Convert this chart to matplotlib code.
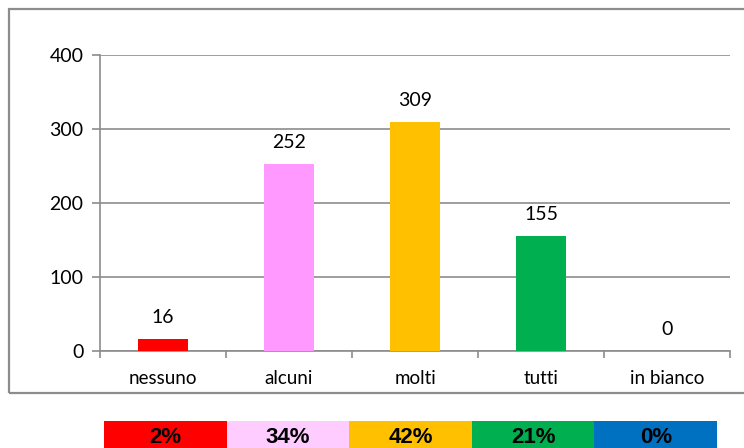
import matplotlib.pyplot as plt
from matplotlib.patches import Rectangle

plt.rcParams.update({'font.family': ['Lato', 'DejaVu Sans'], 'font.size': 14})

# data
categories = ['nessuno', 'alcuni', 'molti', 'tutti', 'in bianco']
counts = [16, 252, 309, 155, 0]
percent_labels = ['2%', '34%', '42%', '21%', '0%']

bar_colors = ['#FF0000', '#FF99FF', '#FFC000', '#00B050', '#0070C0']
cell_colors = ['#FF0000', '#FFCCFF', '#FFC000', '#00B050', '#0070C0']
line_gray = '#8c8c8c'

W, H = 744, 448
fig = plt.figure(figsize=(W / 100, H / 100), dpi=100)

# outer frame of the chart area
fig.patches.append(Rectangle((8.5 / W, 1 - 392.5 / H), (W + 5) / W, (392.5 - 8.5) / H,
                             transform=fig.transFigure, fill=False,
                             edgecolor=line_gray, linewidth=1.6, zorder=0))

# main bar chart
ax = fig.add_axes([100 / W, 1 - 350.7 / H, 630 / W, (350.7 - 55) / H])
x = list(range(len(categories)))
ax.bar(x, counts, width=0.4, color=bar_colors, zorder=3)
ax.set_xlim(-0.5, len(categories) - 0.5)
ax.set_ylim(0, 400)
ax.set_yticks([0, 100, 200, 300, 400])
ax.set_xticks(x)
ax.set_xticklabels(categories)
ax.set_xticks([i - 0.5 for i in range(len(categories) + 1)], minor=True)
ax.tick_params(axis='x', which='major', length=0, pad=14, labelsize=13.5)
ax.tick_params(axis='x', which='minor', length=5, color=line_gray, width=1.2)
ax.tick_params(axis='y', length=6, color=line_gray, width=1.2, pad=6, labelsize=14)
ax.grid(axis='y', color=line_gray, linewidth=1.2, zorder=0)
for side in ['top', 'right']:
    ax.spines[side].set_visible(False)
for side in ['left', 'bottom']:
    ax.spines[side].set_color(line_gray)
    ax.spines[side].set_linewidth(1.2)

for i, v in enumerate(counts):
    ax.annotate(str(v), (x[i], v), xytext=(0, 11.5), textcoords='offset points',
                ha='center', va='baseline', fontsize=14)

# percentage strip under the chart
cax = fig.add_axes([104 / W, 0, 613 / W, 27 / H])
cax.bar(x, [1] * len(x), width=1.0, color=cell_colors)
cax.set_xlim(-0.5, len(x) - 0.5)
cax.set_ylim(0, 1)
cax.axis('off')
for i, txt in enumerate(percent_labels):
    cax.text(x[i], 0.5, txt, ha='center', va='center_baseline', fontsize=16,
             fontweight='bold', family=['Liberation Sans', 'DejaVu Sans'])

fig.savefig('out.png', dpi=100)
